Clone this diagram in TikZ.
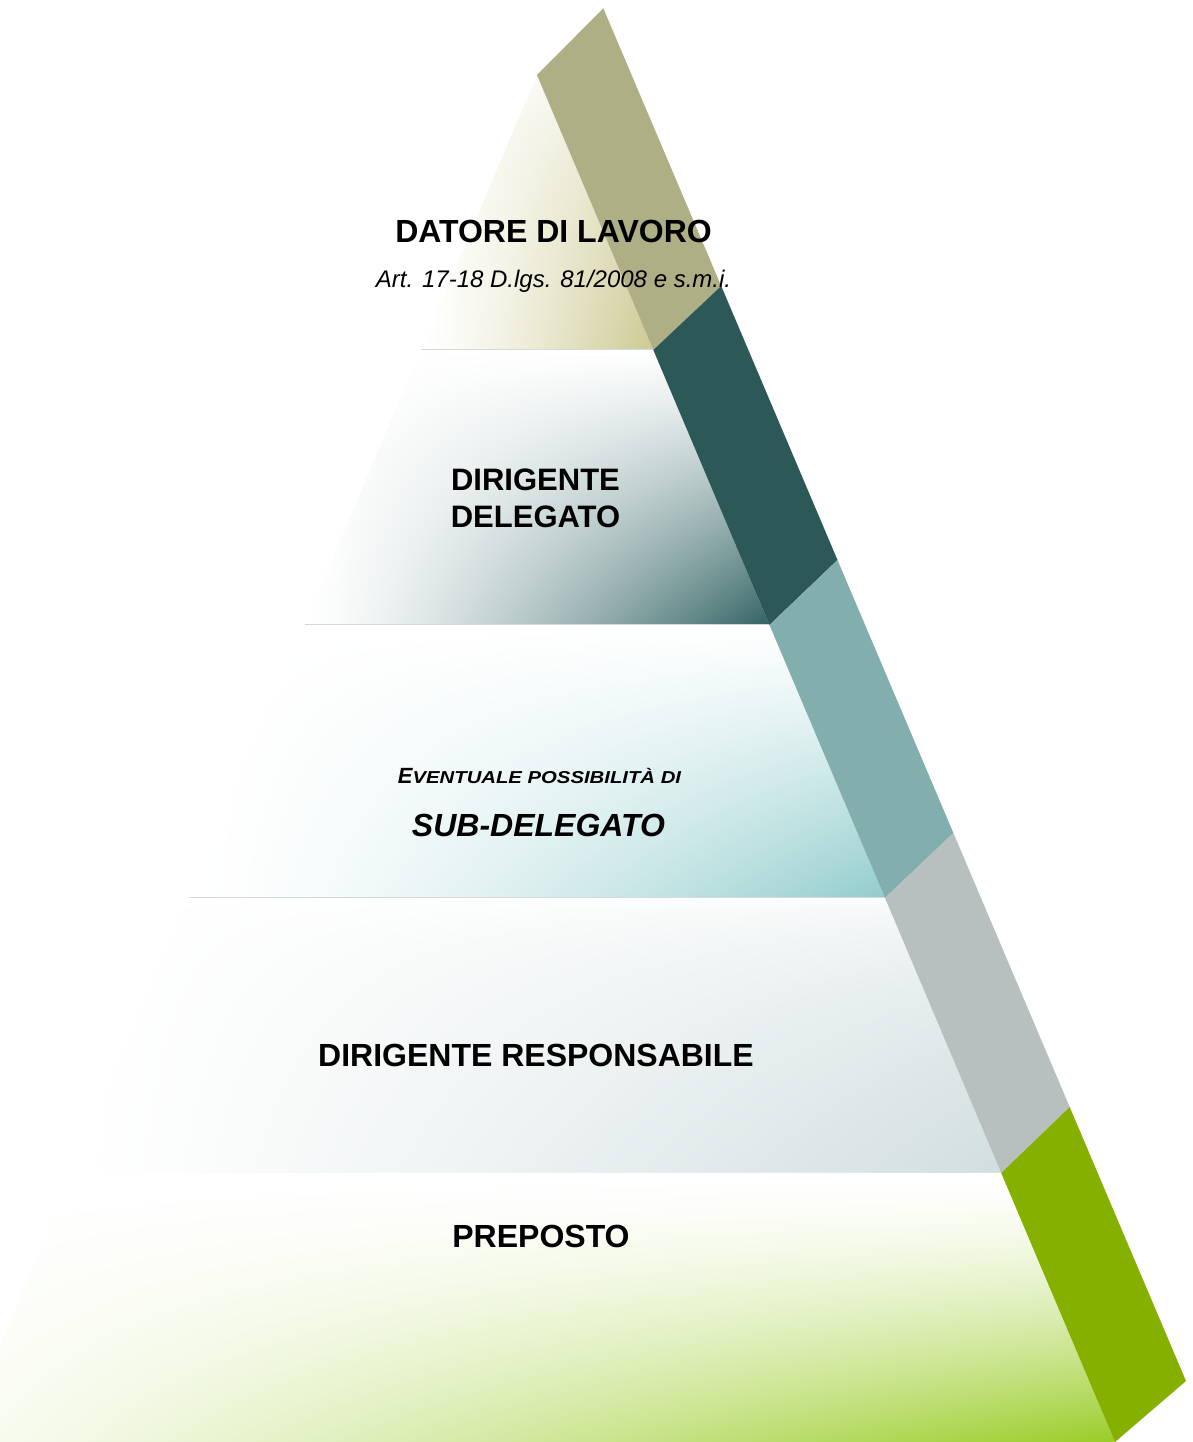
\documentclass[tikz,border=0pt]{standalone}
\usepackage{fontspec}
\setmainfont{Liberation Sans}
\usepackage{graphicx}

% functional shading: #1 name, #2 x exponent, #3 y exponent, #4 x floor, #5 r, #6 g, #7 b
\newcommand\mklevelshade[7]{%
 \pgfdeclarefunctionalshading{#1}{\pgfpoint{0bp}{0bp}}{\pgfpoint{100bp}{100bp}}{}{%
  25 sub 50 div dup 0 lt {pop 0} if dup 1 gt {pop 1} if 1 exch sub
  exch 25 sub 50 div dup 0 lt {pop 0} if dup 1 gt {pop 1} if
  #2 exp 1 #4 sub mul #4 add
  exch #3 exp mul
  dup dup
  1 #7 sub mul 1 exch sub 3 1 roll
  1 #6 sub mul 1 exch sub 3 1 roll
  1 #5 sub mul 1 exch sub 3 1 roll
 }}
\mklevelshade{lvlone}{1.3}{0.45}{0}{0.80}{0.79}{0.57}
\mklevelshade{lvltwo}{1.35}{1.1}{0}{0.20}{0.39}{0.39}
\mklevelshade{lvlthree}{1.5}{1.1}{0}{0.57}{0.80}{0.80}
\mklevelshade{lvlfour}{1.2}{0.5}{0}{0.82}{0.87}{0.875}
\mklevelshade{lvlfive}{1.2}{1.5}{0.06}{0.60}{0.80}{0.15}

\definecolor{bandone}{HTML}{AFAF85}
\definecolor{bandtwo}{HTML}{2D5858}
\definecolor{bandthree}{HTML}{82AFAE}
\definecolor{bandfour}{HTML}{B8C0BF}
\definecolor{bandfive}{HTML}{86B000}
\definecolor{sepgray}{HTML}{D4D9D9}

\newcommand\lvlfs[1]{\fontsize{#1}{#1}\selectfont}

\tikzset{
  sepline/.style={draw=sepgray, line width=1pt},
  lbl/.style={inner sep=0pt, anchor=base, text=black, font=\bfseries\lvlfs{32}},
}

\begin{document}
\begin{tikzpicture}[x=1pt,y=1pt]
\useasboundingbox (0,0) rectangle (1193,1442);
\clip (0,0) rectangle (1193,1442);

% front edge
\coordinate (P0) at (537,1367);
\coordinate (P1) at (653.3,1092);
\coordinate (P2) at (769.5,817);
\coordinate (P3) at (885,544);
\coordinate (P4) at (1001.2,269);
\coordinate (P5) at (1115,0);
% left edge
\coordinate (L1) at (420.7,1092);
\coordinate (L2) at (304.5,817);
\coordinate (L3) at (189,544);
\coordinate (L4) at (72.8,269);
\coordinate (L5) at (-41,0);
% band outer edge
\coordinate (Q0) at (603.3,1433.7);
\coordinate (Q1) at (721.2,1156);
\coordinate (Q2) at (837.5,882);
\coordinate (Q3) at (953.4,609);
\coordinate (Q4) at (1069.7,335);
\coordinate (Q5) at (1186,61);

% levels
\shade[shading=lvlone] (P0) -- (P1) -- (L1) -- cycle;
\shade[shading=lvltwo] (L1) -- (P1) -- (P2) -- (L2) -- cycle;
\shade[shading=lvlthree] (L2) -- (P2) -- (P3) -- (L3) -- cycle;
\shade[shading=lvlfour] (L3) -- (P3) -- (P4) -- (L4) -- cycle;
\shade[shading=lvlfive] (L4) -- (P4) -- (P5) -- (L5) -- cycle;

\draw[sepline] (L1) -- (P1);
\draw[sepline] (L2) -- (P2);
\draw[sepline] (L3) -- (P3);

% side band
\fill[bandone]   (P0) -- (Q0) -- (Q1) -- (P1) -- cycle;
\fill[bandtwo]   (P1) -- (Q1) -- (Q2) -- (P2) -- cycle;
\fill[bandthree] (P2) -- (Q2) -- (Q3) -- (P3) -- cycle;
\fill[bandfour]  (P3) -- (Q3) -- (Q4) -- (P4) -- cycle;
\fill[bandfive]  (P4) -- (Q4) -- (Q5) -- (P5) -- cycle;

% texts
\node[lbl] (datore) at (553.5,1199) {DATORE DI LAVORO};
\node[lbl, font=\itshape\lvlfs{24}] (art) at (553.5,1154) {Art. 17-18 D.lgs. 81/2008 e s.m.i.};
\node[lbl, font=\bfseries\lvlfs{31}] (dir1) at (535.5,951) {DIRIGENTE};
\node[lbl, font=\bfseries\lvlfs{31}] (dir2) at (535.5,914) {DELEGATO};
\node[lbl, font=\bfseries\itshape] (event) at (539.5,658)
  {{\lvlfs{22}E}{\lvlfs{20.3}\scalebox{1}[0.85]{VENTUALE POSSIBILITÀ DI}}};
\node[lbl, font=\bfseries\itshape\lvlfs{32}] (sub) at (538.5,605) {SUB-DELEGATO};
\node[lbl] (resp) at (536,375) {DIRIGENTE RESPONSABILE};
\node[lbl] (prep) at (541,194) {PREPOSTO};
\end{tikzpicture}
\end{document}
